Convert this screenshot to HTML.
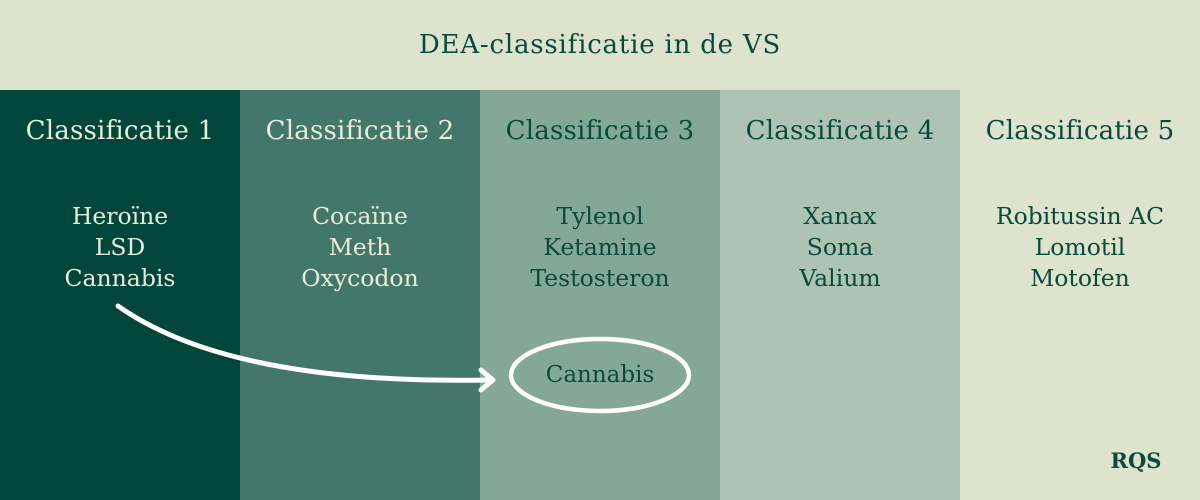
<!DOCTYPE html>
<html><head><meta charset="utf-8"><style>
body{margin:0;width:1200px;height:500px;overflow:hidden;font-family:"DejaVu Serif",serif;position:relative;background:#dde3cc}
.top{position:absolute;left:0;top:0;width:1200px;height:90px;background:#dde3cc;color:#0a4a3c;font-size:26px;letter-spacing:0.8px;text-align:center;line-height:90px}
.col{position:absolute;top:90px;width:240px;height:410px;text-align:center}
.h{position:absolute;top:26px;width:100%;font-size:26px;letter-spacing:0.2px}
.it{position:absolute;top:111px;width:100%;font-size:23.5px;line-height:31px}
</style></head><body>
<div class="top">DEA-classificatie in de VS</div>
<div class="col" style="left:0;background:#01463a;color:#e8ecdb"><div class="h">Classificatie 1</div><div class="it">Heroïne<br>LSD<br>Cannabis</div></div>
<div class="col" style="left:240px;background:#43776a;color:#e8ecdb"><div class="h">Classificatie 2</div><div class="it">Cocaïne<br>Meth<br>Oxycodon</div></div>
<div class="col" style="left:480px;background:#84a898;color:#0a4a3c"><div class="h">Classificatie 3</div><div class="it">Tylenol<br>Ketamine<br>Testosteron</div></div>
<div class="col" style="left:720px;background:#adc4b5;color:#0a4a3c"><div class="h">Classificatie 4</div><div class="it">Xanax<br>Soma<br>Valium</div></div>
<div class="col" style="left:960px;background:#dde3cc;color:#0a4a3c"><div class="h">Classificatie 5</div><div class="it">Robitussin AC<br>Lomotil<br>Motofen</div></div>
<svg style="position:absolute;left:0;top:0" width="1200" height="500">
<path d="M118 306 Q230 385 490 380" fill="none" stroke="#fff" stroke-width="5" stroke-linecap="round"/>
<path d="M481 370 L493 380 L481 390" fill="none" stroke="#fff" stroke-width="5" stroke-linecap="round" stroke-linejoin="round"/>
<ellipse cx="600" cy="375" rx="89" ry="36" fill="none" stroke="#fff" stroke-width="4.5"/>
<text x="600" y="382" text-anchor="middle" font-family="DejaVu Serif" font-size="23" fill="#0a4a3c">Cannabis</text>
<text x="1136" y="468" text-anchor="middle" font-family="DejaVu Serif" font-weight="bold" font-size="21" fill="#0a4a3c">RQS</text>
</svg>
</body></html>
